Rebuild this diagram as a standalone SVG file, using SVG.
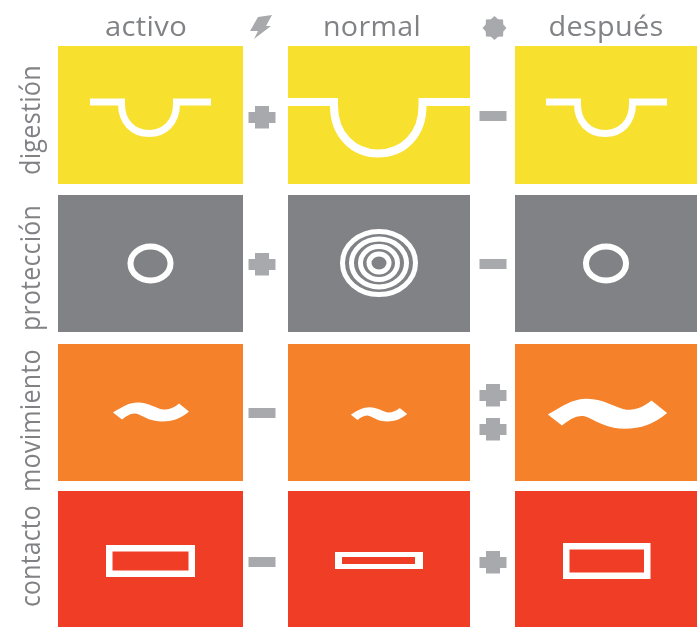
<svg xmlns="http://www.w3.org/2000/svg" width="697" height="627" viewBox="0 0 697 627">
<defs>
<style>
.lab{font-family:"Open Sans","Noto Sans",sans-serif;font-size:27px;fill:#808285;letter-spacing:.3px}
.w{fill:none;stroke:#fff}
.f{fill:#fff}
.sym{fill:#a7a9ac}
.y{fill:#f8e02f}.g{fill:#808285}.o{fill:#f5822a}.r{fill:#f03c26}
</style>
<path id="plus" d="M-7-11H7V-5H13.500V6H7V11.500H-7V6H-13.500V-5H-7Z"/>
<rect id="minus" x="-13.500" y="-5" width="27" height="10"/>
<path id="tilde" d="M-38,1C-28,-5-22,-9-13,-9C-2,-9 5,-3 12,-2C19,-2 23,-4 28,-8L38,0C30,7 21,10 11,10C1,10-6,6-12,3C-18,0-24,4-29,8Z"/>
<filter id="soft" x="-5%" y="-5%" width="110%" height="110%"><feGaussianBlur stdDeviation="0.6"/></filter>
</defs>
<rect width="697" height="627" fill="#fff"/>
<g filter="url(#soft)">
<g id="header-activo"><text class="lab" x="146" y="36" text-anchor="middle" textLength="82" lengthAdjust="spacingAndGlyphs">activo</text></g>
<g id="header-normal"><text class="lab" x="372" y="36" text-anchor="middle" textLength="98" lengthAdjust="spacingAndGlyphs">normal</text></g>
<g id="header-despues"><text class="lab" x="606" y="36" text-anchor="middle" textLength="115" lengthAdjust="spacingAndGlyphs">después</text></g>
<g id="row-digestion"><text class="lab" transform="translate(40 175) rotate(-90)" textLength="110" lengthAdjust="spacingAndGlyphs">digestión</text></g>
<g id="row-proteccion"><text class="lab" transform="translate(40 331) rotate(-90)" textLength="126" lengthAdjust="spacingAndGlyphs">protección</text></g>
<g id="row-movimiento"><text class="lab" transform="translate(40 492) rotate(-90)" textLength="143" lengthAdjust="spacingAndGlyphs">movimiento</text></g>
<g id="row-contacto"><text class="lab" transform="translate(40 607) rotate(-90)" textLength="102" lengthAdjust="spacingAndGlyphs">contacto</text></g>
<g id="icon-bolt"><path class="sym" d="M258,17L272,15L266,26H271L254,39L258,31H250Z"/></g>
<g id="icon-burst"><path class="sym" transform="translate(494.500 28)" d="M12,0L8.800,3.600L8.500,8.500L3.600,8.800L0,12L-3.600,8.800L-8.500,8.500L-8.800,3.600L-12,0L-8.800,-3.600L-8.500,-8.500L-3.600,-8.800L0,-12L3.600,-8.800L8.500,-8.500L8.800,-3.600Z"/></g>

<g id="digestion-activo"><rect class="y" x="58" y="46" width="185" height="138"/><path class="w" stroke-width="7" d="M90,102H121.500V104C121.500,122 133,133.500 149,133.500C165,133.500 176.500,122 176.500,104V102H211"/></g>
<g id="digestion-normal"><rect class="y" x="288" y="46" width="182" height="138"/><path class="w" stroke-width="8" d="M288,102H334V106C334,135 354,153.500 378,153.500C403,153.500 422.500,135 422.500,106V102H470"/></g>
<g id="digestion-despues"><rect class="y" x="515" y="46" width="182" height="138"/><path class="w" stroke-width="7" d="M546,102H577.500V104C577.500,122 589,133.500 605,133.500C621,133.500 632.500,122 632.500,104V102H667"/></g>

<g id="proteccion-activo"><rect class="g" x="58" y="195" width="185" height="137"/><ellipse class="w" stroke-width="6" cx="150.500" cy="263.500" rx="20" ry="17"/></g>
<g id="proteccion-normal"><rect class="g" x="288" y="195" width="182" height="137"/><g class="w" stroke-width="5"><ellipse cx="379" cy="263" rx="10" ry="9"/><ellipse cx="379" cy="263" rx="18.500" ry="16.500"/><ellipse cx="379" cy="263" rx="27.500" ry="24"/><ellipse cx="379" cy="263" rx="36.500" ry="31.500"/></g></g>
<g id="proteccion-despues"><rect class="g" x="515" y="195" width="182" height="137"/><ellipse class="w" stroke-width="6" cx="606" cy="263.500" rx="20" ry="17"/></g>

<g id="movimiento-activo"><rect class="o" x="58" y="344" width="185" height="137"/><use href="#tilde" class="f" transform="translate(151 411.500)"/></g>
<g id="movimiento-normal"><rect class="o" x="288" y="344" width="182" height="137"/><use href="#tilde" class="f" transform="translate(379 414) scale(.74)"/></g>
<g id="movimiento-despues"><rect class="o" x="515" y="344" width="182" height="137"/><use href="#tilde" class="f" transform="translate(607.500 413) scale(1.57)"/></g>

<g id="contacto-activo"><rect class="r" x="58" y="491" width="185" height="136"/><rect class="w" stroke-width="6.500" x="109.250" y="548.250" width="82.500" height="25.500"/></g>
<g id="contacto-normal"><rect class="r" x="288" y="491" width="182" height="136"/><path class="f" fill-rule="evenodd" d="M335,552H423V569H335ZM342,557V564H415V557Z"/></g>
<g id="contacto-despues"><rect class="r" x="515" y="491" width="182" height="136"/><rect class="w" stroke-width="6.500" x="566.250" y="546.250" width="81" height="29.500"/></g>

<g id="op-digestion-1"><use href="#plus" class="sym" x="262" y="117"/></g>
<g id="op-digestion-2"><use href="#minus" class="sym" x="493" y="116"/></g>
<g id="op-proteccion-1"><use href="#plus" class="sym" x="262" y="264"/></g>
<g id="op-proteccion-2"><use href="#minus" class="sym" x="493" y="264"/></g>
<g id="op-movimiento-1"><use href="#minus" class="sym" x="262" y="413"/></g>
<g id="op-movimiento-2"><use href="#plus" class="sym" x="493" y="395"/><use href="#plus" class="sym" x="493" y="429"/></g>
<g id="op-contacto-1"><use href="#minus" class="sym" x="262" y="562"/></g>
<g id="op-contacto-2"><use href="#plus" class="sym" x="493" y="562"/></g>
<g id="connectors"/>
</g>
</svg>
